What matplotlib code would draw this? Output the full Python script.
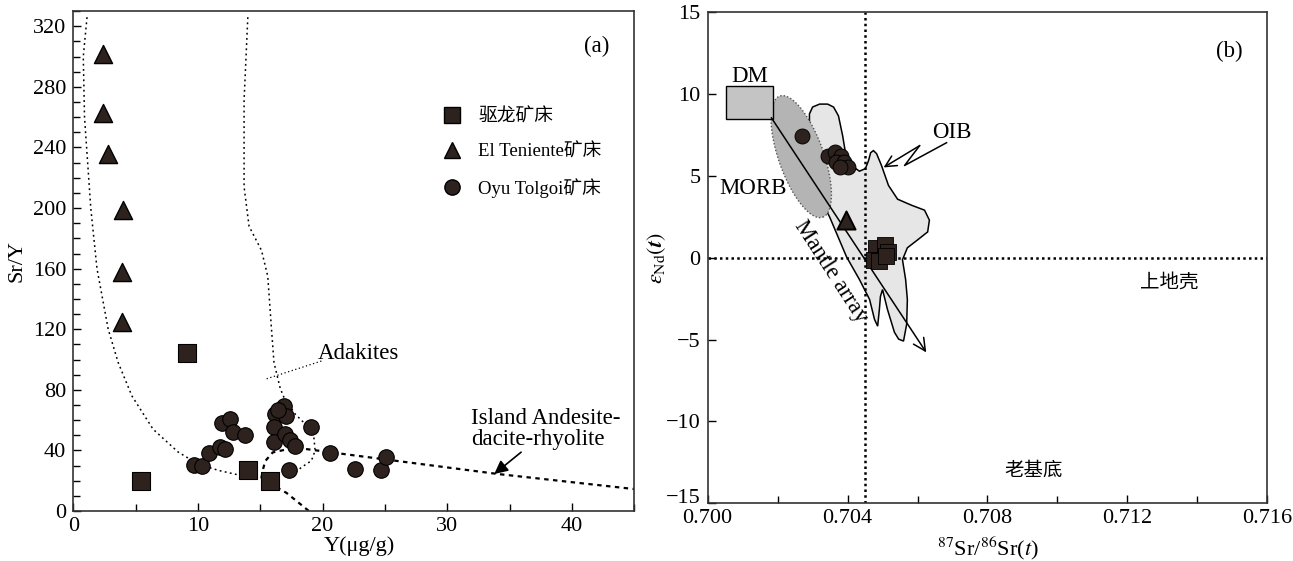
import numpy as np
import matplotlib
matplotlib.use('Agg')
import matplotlib.pyplot as plt
from matplotlib.ticker import MultipleLocator
from matplotlib.lines import Line2D

plt.rcParams['font.family'] = ['Liberation Serif', 'Noto Sans CJK SC']
plt.rcParams['mathtext.fontset'] = 'stix'

# ---------------- panel (a): Sr/Y vs Y ----------------
qulong_y = [9.1, 5.4, 14.0, 15.8]
qulong_sry = [104, 19.5, 27, 19.5]

teniente_y = [2.4, 2.4, 2.8, 4.0, 3.9, 3.9]
teniente_sry = [302, 263, 236, 199, 158, 125]

oyu_y = [9.7, 10.3, 10.9, 11.8, 12.2, 11.9, 12.6, 12.8, 13.8, 16.2, 16.9, 17.1,
         16.1, 16.1, 17.0, 17.4, 17.8, 19.1, 17.3, 20.6, 22.6, 24.7, 25.1, 16.4]
oyu_sry = [30.5, 29.5, 38, 42, 41, 58, 61, 52, 50, 64, 69.5, 62.5,
           55.5, 45.5, 51, 47, 43, 55.5, 27, 38, 27.5, 27, 35.5, 67]

# field boundaries (Y, Sr/Y)
curve_a_y = [1.1, 0.8, 0.9, 1.4, 1.9, 2.8, 3.6, 4.7, 6.4, 8.4, 10.0, 11.7, 13.7, 15.1]
curve_a_sry = [326, 300, 260, 200, 160, 120, 98, 76, 54, 39, 31, 26.7, 23, 22]
curve_b_y = [15.1, 16.0, 17.1, 18.0, 18.9]
curve_b_sry = [22, 17, 12, 6, 0]
curve_c_y = [14.0, 13.7, 13.7, 14.1, 15.1, 15.6, 15.9, 16.1, 16.6, 16.9, 17.8, 18.6,
             19.3, 19.4, 19.1, 18.3, 17.8]
curve_c_sry = [326, 271, 214, 188, 172, 155, 120, 98, 81, 75, 64, 57.5,
               48.7, 39.8, 33.2, 28.8, 25.4]
curve_d_y = [15.1, 15.2, 15.4, 16.0, 17.3, 18.6, 20.7, 24.8, 34.1, 45.0]
curve_d_sry = [22, 27, 33, 38.7, 41, 41, 38.7, 34.3, 24.4, 14.5]

# ---------------- panel (b): eNd(t) vs 87Sr/86Sr(t) ----------------
qulong_sr = [0.70482, 0.70506, 0.70515, 0.70477, 0.70491, 0.70511]
qulong_end = [0.59, 0.79, 0.38, -0.12, -0.22, 0.08]
teniente_sr = [0.70396]
teniente_end = [2.3]
oyu_sr = [0.70271, 0.70344, 0.70363, 0.70382, 0.70368, 0.70391, 0.70401, 0.70377]
oyu_end = [7.45, 6.24, 6.44, 6.24, 5.84, 5.84, 5.53, 5.53]

dm_box = (0.70052, 0.70188, 8.49, 10.5)   # Sr min, Sr max, eNd min, eNd max
morb_ends = [(0.70206, 9.88), (0.70329, 2.48)]
morb_ratio = 0.35
sr_ref = 0.7045

oib_sr = [0.70291, 0.70300, 0.70320, 0.70343, 0.70360, 0.70374, 0.70386, 0.70394,
          0.70411, 0.70434, 0.70451, 0.70460, 0.70466, 0.70474, 0.70483, 0.70497,
          0.70517, 0.70543, 0.70583, 0.70620, 0.70634, 0.70629, 0.70600, 0.70571,
          0.70557, 0.70566, 0.70571, 0.70569, 0.70560, 0.70546, 0.70534, 0.70514,
          0.70500, 0.70494, 0.70491, 0.70486, 0.70477, 0.70463, 0.70434, 0.70397,
          0.70349, 0.70320, 0.70306, 0.70291]
oib_end = [8.79, 9.21, 9.39, 9.39, 9.21, 8.67, 7.45, 6.42,
           5.64, 5.29, 5.45, 5.94, 6.42, 6.55, 6.36, 5.64,
           4.42, 3.58, 3.21, 2.91, 2.30, 1.58, 1.09, 0.61,
           -0.12, -1.33, -2.55, -4.06, -5.09, -4.97, -4.55, -3.15,
           -1.94, -2.36, -3.15, -4.18, -3.76, -2.55, -1.33, 0.06,
           2.48, 3.70, 5.33, 7.33]

mantle_start = (0.70182, 8.56)
mantle_end = (0.70625, -5.78)
oib_arrow_sr = [0.70683, 0.70563, 0.70606, 0.70503]
oib_arrow_end = [7.03, 5.64, 6.85, 5.52]

fill_c = '#2d221e'
serif_cjk = ['Liberation Serif', 'Noto Sans CJK SC']
tsize = 16      # tick labels / axis labels
asize = 16.5    # annotations

fig = plt.figure(figsize=(12.93, 5.61), dpi=100)
ax1 = fig.add_axes([0.0567, 0.0891, 0.4338, 0.891])
ax2 = fig.add_axes([0.5473, 0.1029, 0.4328, 0.8752])

# ---- panel (a)
dot = (0, (1.2, 2.2))
dash = (0, (2, 2))
ax1.plot(curve_a_y, curve_a_sry, color='black', lw=1.1, ls=dot)
ax1.plot(curve_b_y, curve_b_sry, color='black', lw=1.6, ls=dash)
ax1.plot(curve_c_y, curve_c_sry, color='black', lw=1.1, ls=dot)
ax1.plot(curve_d_y, curve_d_sry, color='black', lw=1.6, ls=dash)

ax1.scatter(oyu_y, oyu_sry, s=125, marker='o', color=fill_c, edgecolor='black', lw=0.8, zorder=3)
ax1.scatter(qulong_y, qulong_sry, s=150, marker='s', color=fill_c, edgecolor='black', lw=0.8, zorder=3)
ax1.scatter(teniente_y, teniente_sry, s=170, marker='^', color=fill_c, edgecolor='black', lw=1.0, zorder=3)

ax1.set_xlim(0, 45)
ax1.set_ylim(0, 330)
ax1.xaxis.set_major_locator(MultipleLocator(10))
ax1.xaxis.set_minor_locator(MultipleLocator(5))
ax1.yaxis.set_major_locator(MultipleLocator(40))
ax1.yaxis.set_minor_locator(MultipleLocator(10))
ax1.set_xlabel('Y(μg/g)', fontsize=tsize)
ax1.set_ylabel('Sr/Y', fontsize=tsize)
ax1.xaxis.set_label_coords(0.51, -0.05)
ax1.yaxis.set_label_coords(-0.083, 0.5)

ax1.text(19.6, 104, 'Adakites', fontsize=asize, ha='left', va='center')
ax1.plot([19.9, 15.4], [99, 87], color='black', lw=0.9, ls=(0, (1, 2)))
ax1.text(31.9, 54, 'Island Andesite-\ndacite-rhyolite', fontsize=asize, ha='left', va='center',
         linespacing=1.0)
ax1.annotate('', xy=(33.6, 23.3), xytext=(36.1, 40),
             arrowprops=dict(arrowstyle='-|>', color='black', lw=1.2, mutation_scale=20))
ax1.text(42, 307, '(a)', fontsize=asize, ha='center', va='center')

handles = [
    Line2D([], [], marker='s', ls='none', color=fill_c, markeredgecolor='black', markersize=11),
    Line2D([], [], marker='^', ls='none', color=fill_c, markeredgecolor='black', markersize=12),
    Line2D([], [], marker='o', ls='none', color=fill_c, markeredgecolor='black', markersize=11),
]
ax1.legend(handles, ['驱龙矿床', 'El Teniente矿床', 'Oyu Tolgoi矿床'], loc='upper left',
           bbox_to_anchor=(0.612, 0.84), frameon=False, handletextpad=0.4,
           labelspacing=0.95, prop={'family': serif_cjk, 'size': 13.5})

# ---- panel (b)
ax2.set_xlim(0.700, 0.716)
ax2.set_ylim(-15, 15)

ax2.fill(oib_sr, oib_end, facecolor='#e6e6e6', edgecolor='black', lw=1.1, zorder=1)

# MORB ellipse, built in display space so its shape is independent of the axis scales
p = ax2.transData.transform(morb_ends)
c = p.mean(axis=0)
a = np.hypot(*(p[1] - p[0])) / 2
b = a * morb_ratio
ang = np.arctan2(*(p[1] - p[0])[::-1])
t = np.linspace(0, 2 * np.pi, 200)
ex = c[0] + a * np.cos(t) * np.cos(ang) - b * np.sin(t) * np.sin(ang)
ey = c[1] + a * np.cos(t) * np.sin(ang) + b * np.sin(t) * np.cos(ang)
ell = ax2.transData.inverted().transform(np.column_stack([ex, ey]))
ax2.fill(ell[:, 0], ell[:, 1], facecolor='#b4b4b4', edgecolor='#555555', lw=1.0,
         ls=(0, (1, 1.5)), zorder=2)

ax2.fill([dm_box[0], dm_box[1], dm_box[1], dm_box[0]], [dm_box[2], dm_box[2], dm_box[3], dm_box[3]],
         facecolor='#c4c4c4', edgecolor='black', lw=1.0, zorder=2)

ax2.axvline(sr_ref, color='black', lw=1.8, ls=(0, (1, 1.3)), zorder=2)
ax2.axhline(0, color='black', lw=1.8, ls=(0, (1, 1.3)), zorder=2)

ax2.annotate('', xy=mantle_end, xytext=mantle_start,
             arrowprops=dict(arrowstyle='->', color='black', lw=1.1, mutation_scale=22,
                             shrinkA=0, shrinkB=0), zorder=3)
ax2.plot(oib_arrow_sr[:3], oib_arrow_end[:3], color='black', lw=1.1)
ax2.annotate('', xy=(oib_arrow_sr[3], oib_arrow_end[3]), xytext=(oib_arrow_sr[2], oib_arrow_end[2]),
             arrowprops=dict(arrowstyle='->', color='black', lw=1.1, mutation_scale=20,
                             shrinkA=0, shrinkB=0))

ax2.scatter(oyu_sr, oyu_end, s=115, marker='o', color=fill_c, edgecolor='black', lw=0.7, zorder=4)
ax2.scatter(qulong_sr, qulong_end, s=135, marker='s', color=fill_c, edgecolor='black', lw=0.6, zorder=4)
ax2.scatter(teniente_sr, teniente_end, s=170, marker='^', color=fill_c, edgecolor='black', lw=1.4, zorder=4)

ax2.text(0.7012, 11.1, 'DM', fontsize=asize, ha='center', va='center')
ax2.text(0.70131, 4.22, 'MORB', fontsize=asize, ha='center', va='center')
ax2.text(0.70699, 7.65, 'OIB', fontsize=asize, ha='center', va='center')
ax2.text(0.70352, -0.85, 'Mantle array', fontsize=asize, ha='center', va='center', rotation=-57)
ax2.text(0.71491, 12.6, '(b)', fontsize=asize, ha='center', va='center')
ax2.text(0.7132, -1.5, '上地壳', fontsize=14, ha='center', va='center', family=serif_cjk[::-1])
ax2.text(0.70931, -13.0, '老基底', fontsize=14, ha='center', va='center', family=serif_cjk[::-1])

ax2.xaxis.set_major_locator(MultipleLocator(0.004))
ax2.xaxis.set_minor_locator(MultipleLocator(0.002))
ax2.set_yticks([-15, -10, -5, 0, 5, 10, 15])
ax2.xaxis.set_major_formatter(plt.FormatStrFormatter('%.3f'))
ax2.set_xlabel(r'$^{87}$Sr/$^{86}$Sr($t$)', fontsize=tsize)
ax2.set_ylabel(r'$\varepsilon_{\rm Nd}(\boldsymbol{t})$', fontsize=tsize)
ax2.xaxis.set_label_coords(0.5, -0.065)
ax2.yaxis.set_label_coords(-0.07, 0.5)

for ax in (ax1, ax2):
    ax.tick_params(which='both', direction='in', labelsize=tsize, width=1.0)
    ax.tick_params(which='major', length=6)
    ax.tick_params(which='minor', length=5)
    ax.tick_params(axis='x', pad=4)
    ax.tick_params(axis='y', pad=5)
    for s in ax.spines.values():
        s.set_linewidth(1.2)
        s.set_color('#333333')

# the lowest eNd label sits above its tick so it clears the 0.700 label
ax2.yaxis.get_major_ticks()[0].label1.set_verticalalignment('baseline')

fig.savefig('out.png', dpi=100)
